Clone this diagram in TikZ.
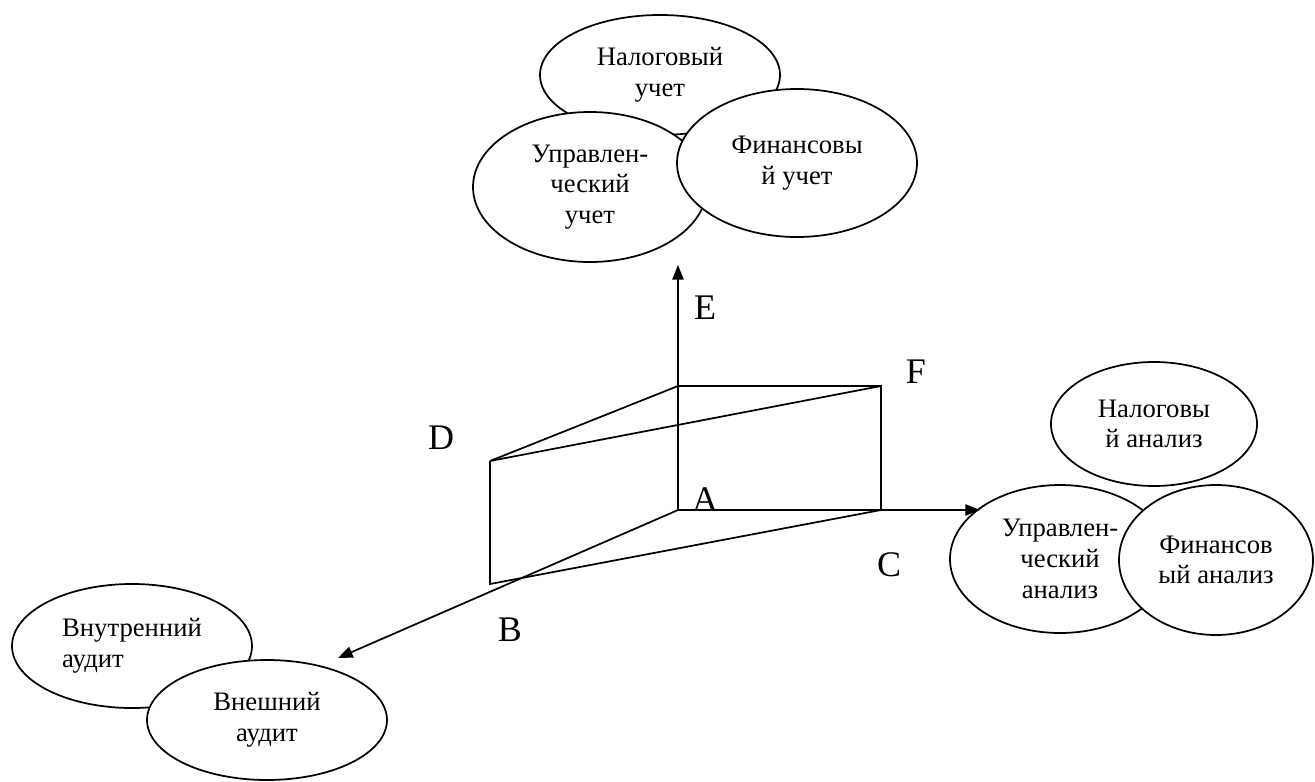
\documentclass[tikz,border=0pt]{standalone}
\usepackage{fontspec}
\setmainfont{Liberation Serif}
\newfontfamily\tnr{Liberation Serif}
\usetikzlibrary{shapes.geometric,arrows.meta}

\tikzset{every picture/.style={line width=1.3pt}}
\tikzset{
  oval/.style={draw, fill=white, ellipse, inner sep=0pt, align=center,
    font=\tnr\fontsize{20}{23}\selectfont},
  axis/.style={-{Triangle[length=11pt,width=8.5pt]}},
  letter/.style={inner sep=0.75pt, font=\tnr\fontsize{27}{30}\selectfont}
}

\begin{document}
\begin{tikzpicture}[x=0.75pt,y=0.75pt,yscale=-1,xscale=1]
\useasboundingbox (0,0) rectangle (1315,782);

%Corners
\coordinate (A) at (678,510);
\coordinate (AE) at (678,386);
\coordinate (F) at (881,386);
\coordinate (C) at (881,510);
\coordinate (D) at (490,461);
\coordinate (B) at (490,584);
%Arrow ends
\coordinate (tipE) at (678,265);
\coordinate (tipC) at (980,510);
\coordinate (tipB) at (338,658);

%Top ellipses
\node [oval, minimum width=180pt, minimum height=90pt] (nalU) at (660,75) {Налоговый\\учет};
\node [oval, minimum width=175.5pt, minimum height=112.5pt] (uprU) at (590,187) {Управлен-\\ческий\\учет};
\node [oval, minimum width=180pt, minimum height=111pt] (finU) at (797,163) {Финансовы\\й учет};

%Right ellipses
\node [oval, minimum width=154.5pt, minimum height=93pt] (nalA) at (1154,424) {Налоговы\\й анализ};
\node [oval, minimum width=165pt, minimum height=111pt] (uprA) at (1060,559) {Управлен-\\ческий\\анализ};
\node [oval, minimum width=145.5pt, minimum height=112.5pt] (finA) at (1216,560) {Финансов\\ый анализ};

%Bottom ellipses
\node [oval, align=left, minimum width=180pt, minimum height=93pt] (vnutr) at (132,646) {Внутренний\\аудит};
\node [oval, minimum width=180pt, minimum height=90pt] (vnesh) at (267,720) {Внешний\\аудит};

%Straight Lines
\draw (AE) -- (F) -- (C) ;
\draw (D) -- (AE) ;
\draw (D) -- (F) ;
\draw (D) -- (B) -- (C) ;

%Axes
\draw [axis] (A) -- (tipE) ;
\draw [axis] (A) -- (tipC) ;
\draw [axis] (A) -- (tipB) ;

% Text Node
\node [letter] (lE) at (705,308) {E};
% Text Node
\node [letter] (lF) at (916,372) {F};
% Text Node
\node [letter] (lD) at (441,438) {D};
% Text Node
\node [letter] (lA) at (705,500) {A};
% Text Node
\node [letter] (lC) at (889,565) {C};
% Text Node
\node [letter] (lB) at (510,630) {B};

\end{tikzpicture}
\end{document}
